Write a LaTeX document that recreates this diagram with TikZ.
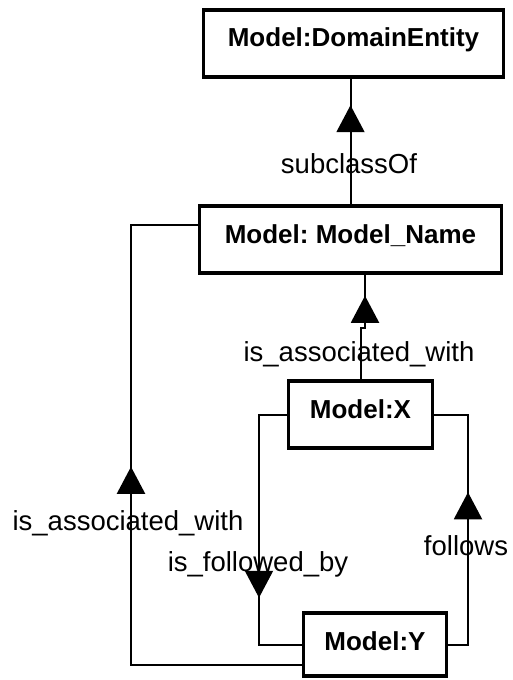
\documentclass[tikz,border=0pt]{standalone}
\usepackage{fontspec}
\setmainfont{Liberation Sans}
\usetikzlibrary{arrows.meta,decorations.markings}

\tikzset{
  cls/.style={draw, line width=3.5bp, inner xsep=0pt, inner ysep=0pt,
    text height=37bp, text depth=30bp, anchor=base,
    font=\fontsize{26bp}{30bp}\selectfont\bfseries},
  rel/.style={line width=2bp},
  lbl/.style={font=\fontsize{27.5bp}{32bp}\selectfont, inner sep=0pt, anchor=base},
  midarrow/.style={postaction={decorate, decoration={markings,
    mark=at position #1 with {\arrow{Triangle[length=27bp,width=28bp]}}}}}
}

\begin{document}
\frenchspacing
\begin{tikzpicture}[x=1bp,y=-1bp]
\useasboundingbox (0,0) rectangle (513,680);

% classes
\node[cls, minimum width=300bp] (dom) at (353.5,47) {Model:DomainEntity};
\node[cls, minimum width=302bp] (name) at (350.5,243) {Model: Model\_Name};
\node[cls, minimum width=144bp] (x) at (360.5,418) {Model:X};
\node[cls, minimum width=143bp, text depth=26bp] (y) at (375,650) {Model:Y};

\coordinate (j) at (365,328);
\coordinate (ol) at (131,665);
\coordinate (ot) at (131,225);
\coordinate (fl) at (259,530);
\coordinate (fr) at (468,530);

% relations
\draw[rel, midarrow=99bp] (name.north) -- (name.north |- dom.south);
\draw[rel, midarrow=88bp] (x.north) -- (x.north |- j) -- (j) -- (j |- name.south);
\draw[rel, midarrow=369bp] (y.west |- ol) -- (ol) -- (ot) -- (name.west |- ot);
\draw[rel, midarrow=211bp] (x.west) -| (fl) |- (y.west);
\draw[rel, midarrow=172bp] (y.east) -| (fr) |- (x.east);

% labels
\node[lbl] (l1) at (349,173) {subclassOf};
\node[lbl] (l2) at (359,361) {is\_associated\_with};
\node[lbl] (l3) at (128,530) {is\_associated\_with};
\node[lbl] (l4) at (258,571) {is\_followed\_by};
\node[lbl] (l5) at (466,555) {follows};
\end{tikzpicture}
\end{document}
